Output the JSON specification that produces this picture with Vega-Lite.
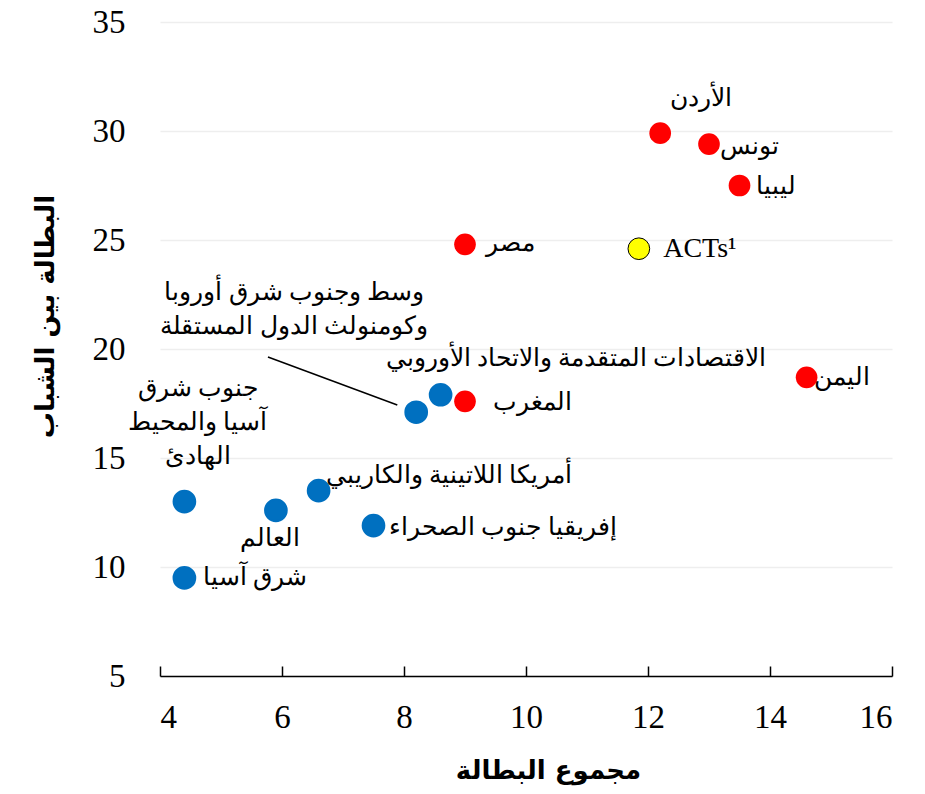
{
  "$schema": "https://vega.github.io/schema/vega-lite/v6.json",
  "width": 732,
  "height": 654,
  "autosize": "none",
  "padding": {"left": 160, "top": 22, "right": 33, "bottom": 118},
  "background": "white",
  "config": {
    "view": {"stroke": null},
    "font": "Liberation Serif"
  },
  "datasets": {
    "points": [
      {"name": "الأردن", "group": "arab", "total": 12.2, "youth": 29.9},
      {"name": "تونس", "group": "arab", "total": 13.0, "youth": 29.4},
      {"name": "ليبيا", "group": "arab", "total": 13.5, "youth": 27.5},
      {"name": "مصر", "group": "arab", "total": 9.0, "youth": 24.8},
      {"name": "ACTs", "group": "acts", "total": 11.85, "youth": 24.6},
      {"name": "اليمن", "group": "arab", "total": 14.6, "youth": 18.7},
      {"name": "المغرب", "group": "arab", "total": 9.0, "youth": 17.6},
      {"name": "الاقتصادات المتقدمة والاتحاد الأوروبي", "group": "region", "total": 8.6, "youth": 17.9},
      {"name": "وسط وجنوب شرق أوروبا وكومنولث الدول المستقلة", "group": "region", "total": 8.2, "youth": 17.1},
      {"name": "أمريكا اللاتينية والكاريبي", "group": "region", "total": 6.6, "youth": 13.5},
      {"name": "العالم", "group": "region", "total": 5.9, "youth": 12.6},
      {"name": "جنوب شرق آسيا والمحيط الهادئ", "group": "region", "total": 4.4, "youth": 13.0},
      {"name": "إفريقيا جنوب الصحراء", "group": "region", "total": 7.5, "youth": 11.9},
      {"name": "شرق آسيا", "group": "region", "total": 4.4, "youth": 9.5}
    ],
    "labels": [
      {"label": "الأردن", "lx": 12.87, "ly": 31.5},
      {"label": "تونس", "lx": 13.67, "ly": 29.3},
      {"label": "ليبيا", "lx": 14.1, "ly": 27.5},
      {"label": "مصر", "lx": 9.74, "ly": 24.85},
      {"label": "وسط وجنوب شرق أوروبا\nوكومنولث الدول المستقلة", "lx": 6.2, "ly": 22.61},
      {"label": "الاقتصادات المتقدمة والاتحاد الأوروبي", "lx": 10.82, "ly": 19.6},
      {"label": "اليمن", "lx": 15.18, "ly": 18.72},
      {"label": "المغرب", "lx": 10.1, "ly": 17.57},
      {"label": "جنوب شرق\nآسيا والمحيط\nالهادئ", "lx": 4.62, "ly": 18.21},
      {"label": "أمريكا اللاتينية والكاريبي", "lx": 8.74, "ly": 14.2},
      {"label": "العالم", "lx": 5.8, "ly": 11.35},
      {"label": "إفريقيا جنوب الصحراء", "lx": 9.62, "ly": 11.83},
      {"label": "شرق آسيا", "lx": 5.56, "ly": 9.54}
    ],
    "latinLabels": [
      {"label": "ACTs¹", "lx": 12.85, "ly": 24.6}
    ],
    "leader": [
      {"x1": 5.77, "y1": 19.63, "x2": 7.89, "y2": 17.43}
    ]
  },
  "layer": [
    {
      "data": {"name": "leader"},
      "mark": {"type": "rule", "color": "black", "strokeWidth": 1.5},
      "encoding": {
        "x": {"field": "x1", "type": "quantitative"},
        "y": {"field": "y1", "type": "quantitative"},
        "x2": {"field": "x2"},
        "y2": {"field": "y2"}
      }
    },
    {
      "data": {"name": "points"},
      "mark": {"type": "circle", "size": 470, "opacity": 1},
      "encoding": {
        "x": {
          "field": "total", "type": "quantitative",
          "scale": {"domain": [4, 16], "nice": false, "zero": false},
          "axis": {
            "title": "مجموع البطالة",
            "titleFont": "DejaVu Sans",
            "titleFontSize": 26,
            "titleFontWeight": "bold",
            "titleColor": "black",
            "titleX": 388,
            "titleY": 94,
            "titleBaseline": "middle",
            "values": [4, 6, 8, 10, 12, 14, 16],
            "format": "d",
            "labelFont": "Liberation Serif",
            "labelFontSize": 33,
            "labelColor": "black",
            "labelPadding": 35,
            "domainColor": "black",
            "domainWidth": 1.5,
            "tickColor": "black",
            "tickWidth": 1.5,
            "tickSize": -10,
            "grid": false
          }
        },
        "y": {
          "field": "youth", "type": "quantitative",
          "scale": {"domain": [5, 35], "nice": false, "zero": false},
          "axis": {
            "title": "البطالة بين الشباب",
            "titleFont": "DejaVu Sans",
            "titleFontSize": 26,
            "titleFontWeight": "bold",
            "titleColor": "black",
            "titleX": -115,
            "titleY": 294,
            "titleBaseline": "middle",
            "titleAngle": -90,
            "values": [5, 10, 15, 20, 25, 30, 35],
            "labelFont": "Liberation Serif",
            "labelFontSize": 33,
            "labelColor": "black",
            "labelPadding": 35,
            "domain": false,
            "ticks": false,
            "grid": true,
            "gridColor": "#eeeeee",
            "gridWidth": 1.5
          }
        },
        "color": {
          "field": "group", "type": "nominal",
          "scale": {"domain": ["arab", "acts", "region"], "range": ["#ff0000", "#ffff00", "#0070c0"]},
          "legend": null
        },
        "stroke": {
          "field": "group", "type": "nominal",
          "scale": {"domain": ["arab", "acts", "region"], "range": ["#ff0000", "#000000", "#0070c0"]},
          "legend": null
        },
        "strokeWidth": {
          "field": "group", "type": "nominal",
          "scale": {"domain": ["arab", "acts", "region"], "range": [0, 2, 0]},
          "legend": null
        }
      }
    },
    {
      "data": {"name": "labels"},
      "transform": [{"calculate": "split(datum.label, '\\n')", "as": "lines"}],
      "mark": {"type": "text", "align": "center", "baseline": "middle", "fontSize": 25, "color": "black", "lineHeight": 34},
      "encoding": {
        "x": {"field": "lx", "type": "quantitative"},
        "y": {"field": "ly", "type": "quantitative"},
        "text": {"field": "lines"}
      }
    },
    {
      "data": {"name": "latinLabels"},
      "mark": {"type": "text", "align": "center", "baseline": "middle", "fontSize": 28, "font": "Liberation Serif", "color": "black"},
      "encoding": {
        "x": {"field": "lx", "type": "quantitative"},
        "y": {"field": "ly", "type": "quantitative"},
        "text": {"field": "label"}
      }
    }
  ]
}
